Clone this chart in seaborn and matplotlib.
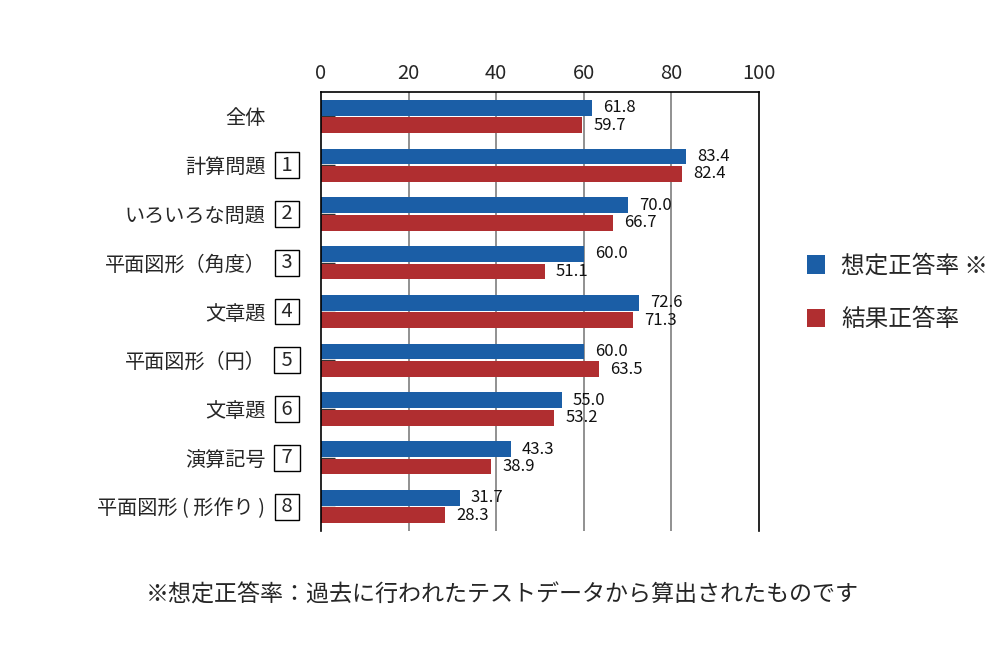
import numpy as np
import pandas as pd
import matplotlib
matplotlib.use('Agg')
import matplotlib.pyplot as plt
import seaborn as sns

categories = ['全体', '計算問題', 'いろいろな問題', '平面図形（角度）', '文章題',
              '平面図形（円）', '文章題 ', '演算記号', '平面図形 ( 形作り )']
numbers = ['', '1', '2', '3', '4', '5', '6', '7', '8']
expected = [61.8, 83.4, 70.0, 60.0, 72.6, 60.0, 55.0, 43.3, 31.7]
actual = [59.7, 82.4, 66.7, 51.1, 71.3, 63.5, 53.2, 38.9, 28.3]
series = ['想定正答率 ※', '結果正答率']
colors = ['#1b5ea6', '#b02e30']
footnote = '※想定正答率：過去に行われたテストデータから算出されたものです'

df = pd.DataFrame({
    'cat': categories * 2,
    'value': expected + actual,
    'series': [series[0]] * len(categories) + [series[1]] * len(categories),
})

sns.set_style('white')
plt.rcParams['font.family'] = ['Noto Sans CJK JP', 'DejaVu Sans']

fig = plt.figure(figsize=(10, 6.6), dpi=100)
ax = fig.add_axes([0.321, 0.1955, 0.438, 0.665])

sns.barplot(data=df, y='cat', x='value', hue='series', orient='h',
            palette=colors, saturation=1, width=0.72, gap=0.1, ax=ax,
            edgecolor='none')

for cont in ax.containers:
    ax.bar_label(cont, fmt='%.1f', padding=8, fontsize=12, color='#111111')

ax.set_xlim(0, 100)
ax.set_ylim(len(categories) - 0.5, -0.5)
ax.set_xticks([0, 20, 40, 60, 80, 100])
ax.xaxis.tick_top()
ax.tick_params(axis='x', length=0, labelsize=14.5, pad=6)
ax.tick_params(axis='y', direction='in', length=10, width=1.0, color='#333333',
               labelsize=14.5, pad=40, left=True)
ax.set_xlabel('')
ax.set_ylabel('')
ax.set_yticks(range(len(categories)))
ax.set_yticklabels([c.strip() for c in categories])

for x in [20, 40, 60, 80]:
    ax.axvline(x, color='#888888', lw=1.3, zorder=0)

for side in ['left', 'top', 'right']:
    ax.spines[side].set_visible(True)
    ax.spines[side].set_color('black')
    ax.spines[side].set_linewidth(1.2)
ax.spines['bottom'].set_visible(False)

# boxed question numbers next to the category names
trans = matplotlib.transforms.blended_transform_factory(ax.transAxes, ax.transData)
for i, n in enumerate(numbers):
    if n:
        ax.text(-0.0776, i, f' {n} ', transform=trans, ha='center', va='center',
                fontsize=14.5,
                bbox=dict(boxstyle='square,pad=0.12', fc='white', ec='black', lw=1))

handles, labels = ax.get_legend_handles_labels()
ax.get_legend().remove()
fig.legend(handles, labels, loc='center left', bbox_to_anchor=(0.786, 0.556),
           frameon=False, fontsize=17, handlelength=0.75, handleheight=0.8,
           handletextpad=0.7, labelspacing=1.3)

fig.text(0.5025, 0.098, footnote, ha='center', va='center', fontsize=16.6)

fig.savefig('out.png', dpi=100)
